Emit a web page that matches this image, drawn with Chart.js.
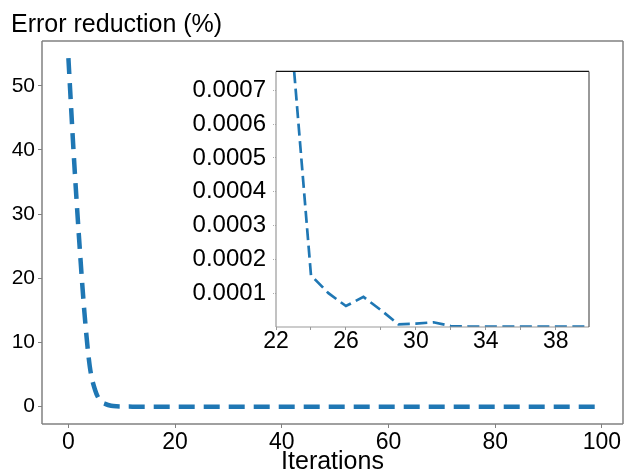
<!DOCTYPE html>
<html>
<head>
<meta charset="utf-8">
<script src="https://cdn.jsdelivr.net/npm/chart.js@4.4.1/dist/chart.umd.min.js"></script>
<style>
  body { margin: 0; background: #fff; overflow: hidden; }
  #wrap { position: relative; width: 624px; height: 471px; overflow: hidden; }
  #mainBox { position: absolute; left: 0; top: 0; }
  #insetBox { position: absolute; left: 180px; top: 50px; }
</style>
</head>
<body>
<div id="wrap">
  <div id="mainBox"><canvas id="mainChart" width="624" height="480"></canvas></div>
  <div id="insetBox"><canvas id="insetChart" width="420" height="310"></canvas></div>
</div>
<script>
// Error reduction (%) per iteration, 0..99
const errorReduction = [
  54.3, 39.3, 26.2, 14.7, 6.3, 2.6, 0.9, 0.4, 0.15, 0.05,
  0.02, 0.01, 0.006, 0.004, 0.003, 0.0025, 0.002, 0.0017, 0.0015, 0.0013,
  0.0012, 0.0011, 0.001, 0.00078, 0.000153, 0.0001, 0.000062, 0.000089, 0.00005, 0.000008,
  0.00001, 0.000014, 0.000003, 0.0000015, 0.0000014, 0.0000014, 0.0000013, 0.0000013, 0.0000012, 0.0000012,
  0.0000012, 0.0000011, 0.0000011, 0.0000011, 0.000001, 0.000001, 0.000001, 0.000001, 0.000001, 0.000001,
  0.000001, 0.000001, 0.000001, 0.000001, 0.000001, 0.000001, 0.000001, 0.000001, 0.000001, 0.000001,
  0.000001, 0.000001, 0.000001, 0.000001, 0.000001, 0.000001, 0.000001, 0.000001, 0.000001, 0.000001,
  0.000001, 0.000001, 0.000001, 0.000001, 0.000001, 0.000001, 0.000001, 0.000001, 0.000001, 0.000001,
  0.000001, 0.000001, 0.000001, 0.000001, 0.000001, 0.000001, 0.000001, 0.000001, 0.000001, 0.000001,
  0.000001, 0.000001, 0.000001, 0.000001, 0.000001, 0.000001, 0.000001, 0.000001, 0.000001, 0.000001
];

const mainXTicks = [0, 20, 40, 60, 80, 100];
const mainYTicks = [0, 10, 20, 30, 40, 50];
const insetXTicks = [22, 24, 26, 28, 30, 32, 34, 36, 38];
const insetYTicks = [0.0001, 0.0002, 0.0003, 0.0004, 0.0005, 0.0006, 0.0007];

const FONT = '"Liberation Sans", Arial, Helvetica, sans-serif';
const lineBlue = '#1f77b4';

const points = errorReduction.map((v, i) => ({ x: i, y: v }));

// matplotlib-like box around the plot area
const framePlugin = {
  id: 'frame',
  afterDatasetsDraw(chart, args, opts) {
    const { ctx, chartArea: { left, top, right, bottom } } = chart;
    const side = (color, x1, y1, x2, y2) => {
      ctx.strokeStyle = color;
      ctx.beginPath();
      ctx.moveTo(x1, y1);
      ctx.lineTo(x2, y2);
      ctx.stroke();
    };
    ctx.save();
    ctx.lineWidth = opts.width;
    side(opts.left, left, top, left, bottom);
    side(opts.bottom, left, bottom, right, bottom);
    side(opts.top, left, top, right, top);
    side(opts.right, right, top, right, bottom);
    ctx.restore();
  }
};

const setTicks = (values) => (axis) => {
  axis.ticks = values.map(v => ({ value: v }));
};

new Chart(document.getElementById('mainChart'), {
  type: 'line',
  data: {
    datasets: [{
      data: points,
      borderColor: lineBlue,
      borderWidth: 4.5,
      borderDash: [16, 9],
      pointRadius: 0,
      fill: false,
      cubicInterpolationMode: 'monotone'
    }]
  },
  options: {
    responsive: false,
    animation: false,
    layout: { padding: { left: 11, right: 1, top: 0, bottom: 0 } },
    plugins: {
      legend: { display: false },
      tooltip: { enabled: false },
      title: {
        display: true,
        text: 'Error reduction (%)',
        align: 'start',
        color: '#000',
        font: { family: FONT, size: 25, weight: 'normal', lineHeight: 1.2 },
        padding: { top: 10, bottom: 1 }
      },
      frame: { width: 1.5, left: '#808080', bottom: '#808080', top: '#808080', right: '#808080' }
    },
    scales: {
      x: {
        type: 'linear',
        min: -4.95,
        max: 103.95,
        afterBuildTicks: setTicks(mainXTicks),
        afterFit: (s) => { s.height = 56; },
        grid: { drawOnChartArea: false, tickLength: 4, color: '#808080' },
        border: { display: false },
        ticks: {
          color: '#000',
          padding: 1,
          maxRotation: 0,
          autoSkip: false,
          font: { family: FONT, size: 23, lineHeight: 1.2 }
        },
        title: {
          display: true,
          text: 'Iterations',
          color: '#000',
          font: { family: FONT, size: 25, lineHeight: 1.2 },
          padding: { top: 0, bottom: 3 }
        }
      },
      y: {
        min: -2.7,
        max: 56.97,
        afterBuildTicks: setTicks(mainYTicks),
        afterFit: (s) => { s.width = 31; },
        grid: { drawOnChartArea: false, tickLength: 4, color: '#808080' },
        border: { display: false },
        ticks: {
          color: '#000',
          padding: 3,
          font: { family: FONT, size: 21 }
        }
      }
    }
  },
  plugins: [framePlugin]
});

new Chart(document.getElementById('insetChart'), {
  type: 'line',
  data: {
    datasets: [{
      data: points,
      borderColor: lineBlue,
      borderWidth: 2.7,
      borderDash: [12, 5.5],
      pointRadius: 0,
      fill: false,
      tension: 0,
      clip: 0
    }]
  },
  options: {
    responsive: false,
    animation: false,
    layout: { padding: { left: 0, right: 11, top: 19, bottom: 0 } },
    plugins: {
      legend: { display: false },
      tooltip: { enabled: false },
      frame: { width: 1.2, left: '#999', bottom: '#999', top: '#111', right: '#555' }
    },
    scales: {
      x: {
        type: 'linear',
        min: 22,
        max: 39.9,
        afterBuildTicks: setTicks(insetXTicks),
        afterFit: (s) => { s.height = 33; },
        grid: { drawOnChartArea: false, tickLength: 3, color: '#999' },
        border: { display: false },
        ticks: {
          color: '#000',
          padding: 0,
          maxRotation: 0,
          autoSkip: false,
          font: { family: FONT, size: 23, lineHeight: 1.0 },
          callback: (v) => ((v - 22) % 4 === 0 ? String(v) : '')
        }
      },
      y: {
        min: 0,
        max: 0.000756,
        afterBuildTicks: setTicks(insetYTicks),
        afterFit: (s) => { s.width = 96; },
        grid: { drawOnChartArea: false, tickLength: 3, color: '#aaa', tickBorderDash: [1, 1] },
        border: { display: false },
        ticks: {
          color: '#000',
          padding: 7,
          font: { family: FONT, size: 24 },
          callback: (v) => v.toFixed(4)
        }
      }
    }
  },
  plugins: [framePlugin]
});
</script>
</body>
</html>
